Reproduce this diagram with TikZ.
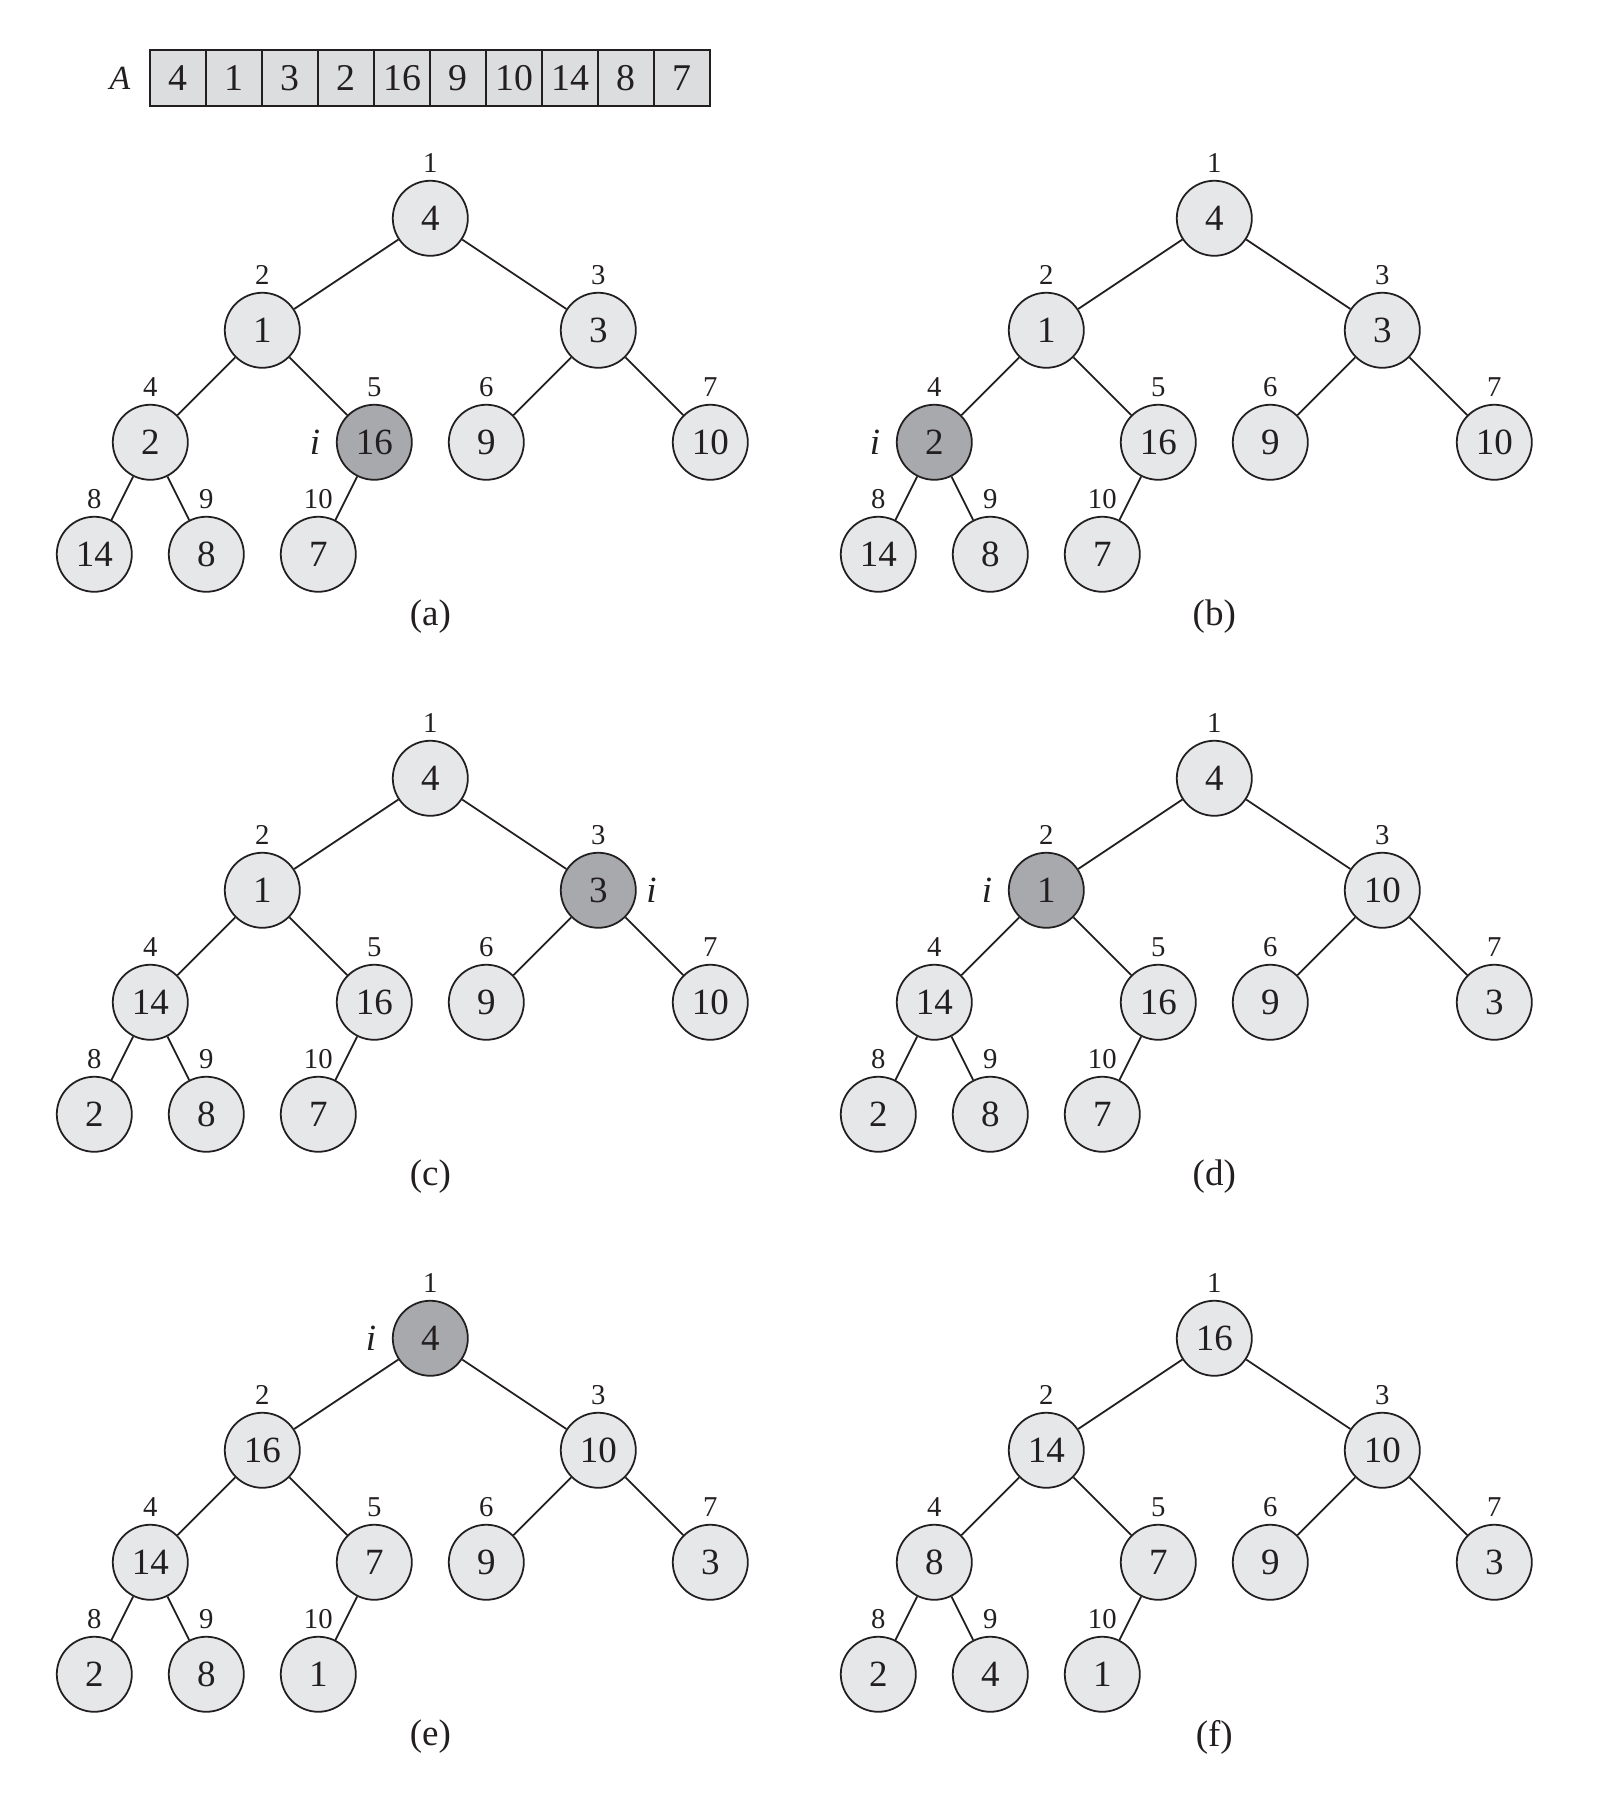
\documentclass[tikz,border=0pt]{standalone}
\usepackage{fontspec}
\setmainfont{Liberation Serif}
\usetikzlibrary{calc}

\definecolor{keyfill}{RGB}{230,231,232}
\definecolor{hotfill}{RGB}{167,169,172}
\definecolor{cellfill}{RGB}{220,221,222}
\definecolor{ink}{RGB}{35,31,32}

\tikzset{
  heapkey/.style={circle, draw=ink, fill=keyfill, line width=0.45pt,
    minimum size=0.67cm, inner sep=0pt, text=ink,
    font=\fontsize{9.4}{11}\selectfont},
  hotkey/.style={heapkey, fill=hotfill},
  idx/.style={inner sep=0pt, text=ink, font=\fontsize{7.3}{9}\selectfont},
  ilab/.style={inner sep=0pt, text=ink, font=\fontsize{9.4}{11}\selectfont\itshape},
  captext/.style={inner sep=0pt, text=ink, font=\fontsize{9.4}{11}\selectfont},
  edge/.style={draw=ink, line width=0.45pt},
  cell/.style={draw=ink, fill=cellfill, line width=0.5pt, minimum size=0.5cm,
    inner sep=0pt, text=ink, font=\fontsize{9.6}{11}\selectfont},
}

% #1 prefix, #2/#3 shift, #4 keys in heap order, #5 marked index (0 = none),
% #6 horizontal offset of the i marker, #7 caption
\newcommand{\drawheap}[7]{%
  \begin{scope}[shift={(#2,#3)}]
    \foreach \v [count=\k] in {#4} {
      \pgfmathsetmacro\px{{3,1.5,4.5,0.5,2.5,3.5,5.5,0,1,2}[\k-1]}
      \pgfmathsetmacro\py{{0,-1,-1,-2,-2,-2,-2,-3,-3,-3}[\k-1]}
      \pgfmathsetmacro\pyl{\py+0.49}
      \ifnum\k=#5 \def\keysty{hotkey}\else\def\keysty{heapkey}\fi
      \node[\keysty] (#1\k) at (\px,\py) {\v};
      \node[idx] (#1\k idx) at (\px,\pyl) {\k};
    }
    \foreach \c in {2,...,10} {
      \pgfmathtruncatemacro\p{floor(\c/2)}
      \draw[edge] (#1\p) -- (#1\c);
    }
    \ifnum#5>0
      \node[ilab] (#1i) at ([xshift=#6cm]#1#5.center) {i};
    \fi
    \node[captext] (#1cap) at (3,-3.56) {#7};
  \end{scope}}

\begin{document}
\begin{tikzpicture}
  \useasboundingbox (-0.842,1.949) rectangle (13.658,-14.087);

  % the array A
  \node[inner sep=0pt, text=ink, font=\fontsize{8.6}{10}\selectfont\itshape] (arrA) at (0.23,1.25) {A};
  \foreach \v [count=\j] in {4,1,3,2,16,9,10,14,8,7}
    \node[cell] (cell\j) at (0.25+0.5*\j,1.25) {\v};

  % the six stages
  \drawheap{a}{0}{0}{4,1,3,2,16,9,10,14,8,7}{5}{-0.53}{(a)}
  \drawheap{b}{7}{0}{4,1,3,2,16,9,10,14,8,7}{4}{-0.53}{(b)}
  \drawheap{c}{0}{-5}{4,1,3,14,16,9,10,2,8,7}{3}{0.476}{(c)}
  \drawheap{d}{7}{-5}{4,1,10,14,16,9,3,2,8,7}{2}{-0.53}{(d)}
  \drawheap{e}{0}{-10}{4,16,10,14,7,9,3,2,8,1}{1}{-0.53}{(e)}
  \drawheap{f}{7}{-10}{16,14,10,8,7,9,3,2,4,1}{0}{0}{(f)}
\end{tikzpicture}
\end{document}
